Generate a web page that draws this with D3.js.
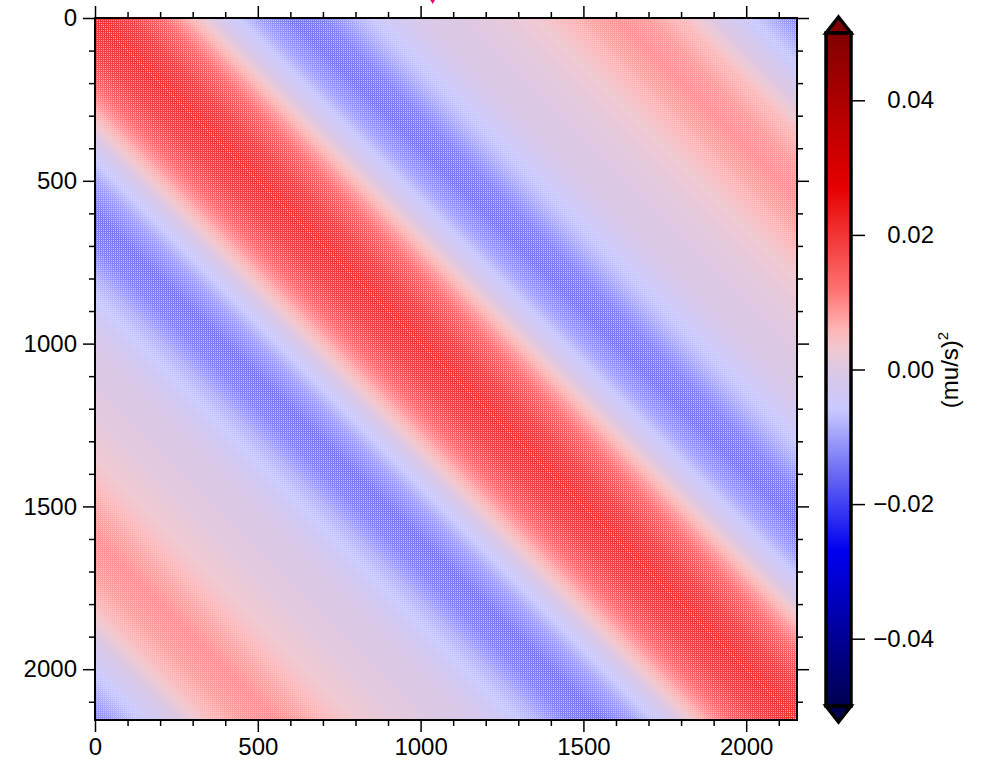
<!DOCTYPE html>
<html>
<head>
<meta charset="utf-8">
<script src="https://cdn.jsdelivr.net/npm/d3@7"></script>
<style>
  body { margin: 0; background: #fff; }
  text { font-family: "Liberation Sans", Arial, sans-serif; }
</style>
</head>
<body>
<div id="chart"></div>
<script>
// matrix size (index range on both axes)
var N = 2156;

// covariance as a function of lag |i - j|
var lags = [0, 100, 200, 300, 400, 500, 600, 700, 800, 900, 1000, 1100,
  1200, 1300, 1400, 1500, 1600, 1700, 1800, 1900, 2000, 2100, 2200];
var cov = [0.020, 0.018, 0.013, 0.005, -0.003, -0.010, -0.014, -0.013, -0.008,
  -0.004, -0.001, 0.000, 0.001, 0.002, 0.004, 0.007, 0.009, 0.008, 0.005,
  0.000, -0.005, -0.010, -0.014];

// colour palette stops
var cbValues = [-0.05, -0.027, -0.015, -0.006, 0, 0.003, 0.006, 0.012, 0.027, 0.05];
var cbColors = ["#000050", "#0000f0", "#6e6ef5", "#c8c8ff", "#dcc8e4",
  "#f0c8d0", "#ffb4b4", "#ff7070", "#e60000", "#800000"];

var majorTicks = [0, 500, 1000, 1500, 2000];
var minorTicks = d3.range(0, 2200, 100).filter(function(d) { return d % 500 !== 0; });
var cbTicks = [-0.04, -0.02, 0, 0.02, 0.04];
var markerX = [1037];

var width = 986, height = 760;
var plot = { left: 95, top: 18, size: 702 };

var svg = d3.select("#chart").append("svg")
  .attr("width", width)
  .attr("height", height);

var x = d3.scaleLinear().domain([0, N]).range([plot.left, plot.left + plot.size]);
var y = d3.scaleLinear().domain([0, N]).range([plot.top, plot.top + plot.size]);
var prof = d3.scaleLinear().domain(lags).range(cov);
var color = d3.scaleLinear().domain(cbValues).range(cbColors).clamp(true);

// --- heatmap drawn on a canvas, then placed in the svg
var W = plot.size;
var canvas = document.createElement("canvas");
canvas.width = W;
canvas.height = W;
var ctx = canvas.getContext("2d");
var img = ctx.createImageData(W, W);

var offCols = [], offVals = [];
for (var d = 0; d < W; d++) {
  var v = prof(d * N / W);
  offVals.push(v);
  offCols.push(d3.rgb(color(v)));
}

for (var py = 0; py < W; py++) {
  for (var px = 0; px < W; px++) {
    var k = Math.abs(px - py);
    var c = offCols[k];
    var r = c.r, g = c.g, b = c.b;
    if (px % 2 === 0 && py % 2 === 0) {
      var f = 0.5 * Math.min(1, Math.abs(offVals[k]) / 0.012);
      r += (255 - r) * f; g += (255 - g) * f; b += (255 - b) * f;
    }
    if (k === 0 && px % 2 === 0) { r = 255; g = 225; b = 225; }
    var i = (py * W + px) * 4;
    img.data[i] = r; img.data[i + 1] = g; img.data[i + 2] = b; img.data[i + 3] = 255;
  }
}
ctx.putImageData(img, 0, 0);

svg.append("image")
  .attr("x", plot.left)
  .attr("y", plot.top)
  .attr("width", W)
  .attr("height", W)
  .attr("href", canvas.toDataURL());

// --- axes
function styleAxis(g) {
  g.select(".domain").remove();
  g.selectAll("line").attr("stroke", "#000").attr("stroke-width", 1.5);
  g.selectAll("text").attr("font-size", 24).attr("fill", "#000");
}

svg.append("g")
  .attr("transform", "translate(" + plot.left + ",0)")
  .call(d3.axisLeft(y).tickValues(majorTicks).tickSize(12).tickPadding(6).tickFormat(d3.format("d")))
  .call(styleAxis);
svg.append("g")
  .attr("transform", "translate(" + plot.left + ",0)")
  .call(d3.axisLeft(y).tickValues(minorTicks).tickSize(6).tickFormat(""))
  .call(styleAxis);

svg.append("g")
  .attr("transform", "translate(0," + (plot.top + plot.size) + ")")
  .call(d3.axisBottom(x).tickValues(majorTicks).tickSize(12).tickPadding(6).tickFormat(d3.format("d")))
  .call(styleAxis);
svg.append("g")
  .attr("transform", "translate(0," + (plot.top + plot.size) + ")")
  .call(d3.axisBottom(x).tickValues(minorTicks).tickSize(6).tickFormat(""))
  .call(styleAxis);

svg.append("g")
  .attr("transform", "translate(0," + plot.top + ")")
  .call(d3.axisTop(x).tickValues(majorTicks).tickSize(12).tickFormat(""))
  .call(styleAxis);
svg.append("g")
  .attr("transform", "translate(0," + plot.top + ")")
  .call(d3.axisTop(x).tickValues(minorTicks).tickSize(6).tickFormat(""))
  .call(styleAxis);

svg.append("g")
  .attr("transform", "translate(" + (plot.left + plot.size) + ",0)")
  .call(d3.axisRight(y).tickValues(majorTicks).tickSize(12).tickFormat(""))
  .call(styleAxis);
svg.append("g")
  .attr("transform", "translate(" + (plot.left + plot.size) + ",0)")
  .call(d3.axisRight(y).tickValues(minorTicks).tickSize(6).tickFormat(""))
  .call(styleAxis);

svg.append("rect")
  .attr("x", plot.left)
  .attr("y", plot.top)
  .attr("width", plot.size)
  .attr("height", plot.size)
  .attr("fill", "none")
  .attr("stroke", "#000")
  .attr("stroke-width", 2);

// marker at the top edge (mostly cut off by the window)
svg.selectAll(".marker")
  .data(markerX)
  .enter()
  .append("path")
  .attr("class", "marker")
  .attr("d", function(d) {
    var cx = x(d);
    return "M" + (cx - 7) + ",-8L" + (cx + 7) + ",-8L" + cx + ",4Z";
  })
  .attr("fill", "#ee0066");

// --- colour bar
var cb = { x0: 826, x1: 851 };
var cy = d3.scaleLinear().domain([-0.05, 0.05]).range([706, 33]);

var defs = svg.append("defs");
var grad = defs.append("linearGradient")
  .attr("id", "cbgrad")
  .attr("x1", 0).attr("y1", 1).attr("x2", 0).attr("y2", 0);
grad.selectAll("stop")
  .data(cbValues)
  .enter()
  .append("stop")
  .attr("offset", function(d) { return (d + 0.05) / 0.1; })
  .attr("stop-color", function(d, i) { return cbColors[i]; });

var cmid = (cb.x0 + cb.x1) / 2;
// end triangles
svg.append("path")
  .attr("d", "M" + cb.x0 + "," + cy(0.05) + "L" + cmid + "," + (cy(0.05) - 16) + "L" + cb.x1 + "," + cy(0.05) + "Z")
  .attr("fill", color(0.05))
  .attr("stroke", "#000")
  .attr("stroke-width", 3.5)
  .attr("stroke-linejoin", "miter");
svg.append("path")
  .attr("d", "M" + cb.x0 + "," + cy(-0.05) + "L" + cmid + "," + (cy(-0.05) + 16) + "L" + cb.x1 + "," + cy(-0.05) + "Z")
  .attr("fill", color(-0.05))
  .attr("stroke", "#000")
  .attr("stroke-width", 3.5)
  .attr("stroke-linejoin", "miter");

svg.append("rect")
  .attr("x", cb.x0)
  .attr("y", cy(0.05))
  .attr("width", cb.x1 - cb.x0)
  .attr("height", cy(-0.05) - cy(0.05))
  .attr("fill", "url(#cbgrad)")
  .attr("stroke", "#000")
  .attr("stroke-width", 3.5);

var cbAxis = svg.append("g")
  .attr("transform", "translate(" + (cb.x1 + 1) + ",0)")
  .call(d3.axisRight(cy).tickValues(cbTicks).tickSize(13).tickPadding(0)
    .tickFormat(function(d) { return d3.format(".2f")(d).replace("-", "\u2212"); }))
  .call(styleAxis);
cbAxis.selectAll("text")
  .attr("text-anchor", "end")
  .attr("x", 934 - cb.x1 - 1);

var unit = svg.append("text")
  .attr("transform", "translate(958,370) rotate(-90)")
  .attr("text-anchor", "middle")
  .attr("font-size", 24)
  .attr("fill", "#000");
unit.append("tspan").text("(mu/s)");
unit.append("tspan").attr("font-size", 15).attr("dy", -10).text("2");
</script>
</body>
</html>
